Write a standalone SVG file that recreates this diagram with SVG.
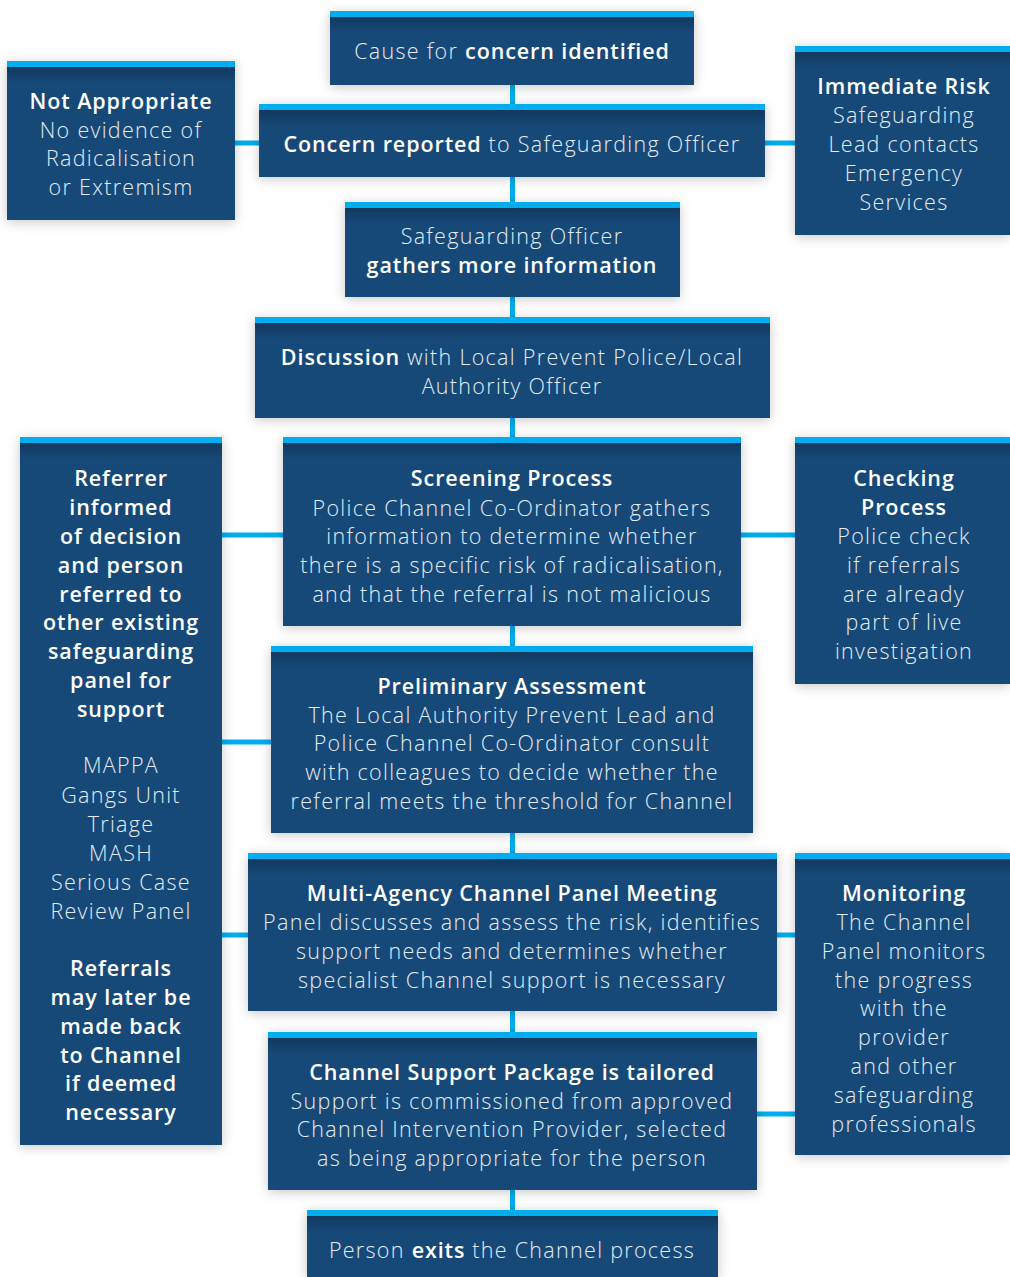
<svg xmlns="http://www.w3.org/2000/svg" width="1010" height="1277" viewBox="0 0 1010 1277">
<defs>
<filter id="sh" x="-10%" y="-10%" width="120%" height="130%">
<feDropShadow dx="0" dy="2" stdDeviation="6" flood-color="#000" flood-opacity="0.22"/>
</filter>
<linearGradient id="topg" x1="0" y1="0" x2="0" y2="1">
<stop offset="0" stop-color="#000" stop-opacity="0.22"/>
<stop offset="1" stop-color="#000" stop-opacity="0"/>
</linearGradient>
</defs>
<style>
.box{fill:#134a78;filter:url(#sh)}
.bar{fill:#00adef}
.grad{fill:url(#topg)}
.con{stroke:#00adef;stroke-width:5;fill:none}
text{font-family:"Open Sans",Lato,"Liberation Sans",sans-serif;font-size:21.5px;fill:#e4ecf3;text-anchor:middle;font-weight:300;letter-spacing:1.3px}
.b{font-weight:600;fill:#ffffff;letter-spacing:0.9px}
</style>
<rect width="1010" height="1277" fill="#ffffff"/>
<g id="connectors">
<line class="con" x1="512.5" y1="85" x2="512.5" y2="1210"/>
<line class="con" x1="235" y1="143" x2="259" y2="143"/>
<line class="con" x1="765" y1="143" x2="795" y2="143"/>
<line class="con" x1="222" y1="535" x2="283" y2="535"/>
<line class="con" x1="741" y1="535" x2="795" y2="535"/>
<line class="con" x1="222" y1="742" x2="271" y2="742"/>
<line class="con" x1="222" y1="935" x2="248" y2="935"/>
<line class="con" x1="777" y1="935" x2="795" y2="935"/>
<line class="con" x1="757" y1="1114" x2="795" y2="1114"/>
</g>
<g id="cause">
<rect class="box" x="330" y="11" width="364" height="74"/>
<rect class="grad" x="330" y="17" width="364" height="16"/>
<rect class="bar" x="330" y="11" width="364" height="6"/>
<text x="512" y="59">Cause for <tspan class="b">concern identified</tspan></text>
</g>
<g id="reported">
<rect class="box" x="259" y="104" width="506" height="73"/>
<rect class="grad" x="259" y="110" width="506" height="16"/>
<rect class="bar" x="259" y="104" width="506" height="6"/>
<text x="512" y="152"><tspan class="b">Concern reported</tspan> to Safeguarding Officer</text>
</g>
<g id="notappropriate">
<rect class="box" x="7" y="61" width="228" height="159"/>
<rect class="grad" x="7" y="67" width="228" height="16"/>
<rect class="bar" x="7" y="61" width="228" height="6"/>
<text x="121" y="109" class="b">Not Appropriate</text>
<text x="121" y="138">No evidence of</text>
<text x="121" y="166">Radicalisation</text>
<text x="121" y="195">or Extremism</text>
</g>
<g id="immediaterisk">
<rect class="box" x="795" y="46" width="215" height="189"/>
<rect class="grad" x="795" y="52" width="215" height="16"/>
<rect class="bar" x="795" y="46" width="215" height="6"/>
<text x="904" y="94" class="b">Immediate Risk</text>
<text x="904" y="123">Safeguarding</text>
<text x="904" y="152">Lead contacts</text>
<text x="904" y="181">Emergency</text>
<text x="904" y="210">Services</text>
</g>
<g id="gathers">
<rect class="box" x="345" y="202" width="335" height="95"/>
<rect class="grad" x="345" y="208" width="335" height="16"/>
<rect class="bar" x="345" y="202" width="335" height="6"/>
<text x="512" y="244">Safeguarding Officer</text>
<text x="512" y="273" class="b">gathers more information</text>
</g>
<g id="discussion">
<rect class="box" x="255" y="317" width="515" height="101"/>
<rect class="grad" x="255" y="323" width="515" height="16"/>
<rect class="bar" x="255" y="317" width="515" height="6"/>
<text x="512" y="365"><tspan class="b">Discussion</tspan> with Local Prevent Police/Local</text>
<text x="512" y="394">Authority Officer</text>
</g>
<g id="referrer">
<rect class="box" x="20" y="437" width="202" height="708"/>
<rect class="grad" x="20" y="443" width="202" height="16"/>
<rect class="bar" x="20" y="437" width="202" height="6"/>
<text x="121" y="486" class="b">Referrer</text>
<text x="121" y="515" class="b">informed</text>
<text x="121" y="544" class="b">of decision</text>
<text x="121" y="573" class="b">and person</text>
<text x="121" y="602" class="b">referred to</text>
<text x="121" y="630" class="b">other existing</text>
<text x="121" y="659" class="b">safeguarding</text>
<text x="121" y="688" class="b">panel for</text>
<text x="121" y="717" class="b">support</text>
<text x="121" y="773">MAPPA</text>
<text x="121" y="803">Gangs Unit</text>
<text x="121" y="832">Triage</text>
<text x="121" y="861">MASH</text>
<text x="121" y="890">Serious Case</text>
<text x="121" y="919">Review Panel</text>
<text x="121" y="976" class="b">Referrals</text>
<text x="121" y="1005" class="b">may later be</text>
<text x="121" y="1034" class="b">made back</text>
<text x="121" y="1063" class="b">to Channel</text>
<text x="121" y="1091" class="b">if deemed</text>
<text x="121" y="1120" class="b">necessary</text>
</g>
<g id="screening">
<rect class="box" x="283" y="437" width="458" height="189"/>
<rect class="grad" x="283" y="443" width="458" height="16"/>
<rect class="bar" x="283" y="437" width="458" height="6"/>
<text x="512" y="486" class="b">Screening Process</text>
<text x="512" y="516">Police Channel Co-Ordinator gathers</text>
<text x="512" y="544">information to determine whether</text>
<text x="512" y="573">there is a specific risk of radicalisation,</text>
<text x="512" y="602">and that the referral is not malicious</text>
</g>
<g id="checking">
<rect class="box" x="795" y="437" width="215" height="247"/>
<rect class="grad" x="795" y="443" width="215" height="16"/>
<rect class="bar" x="795" y="437" width="215" height="6"/>
<text x="904" y="486" class="b">Checking</text>
<text x="904" y="515" class="b">Process</text>
<text x="904" y="544">Police check</text>
<text x="904" y="573">if referrals</text>
<text x="904" y="602">are already</text>
<text x="904" y="630">part of live</text>
<text x="904" y="659">investigation</text>
</g>
<g id="preliminary">
<rect class="box" x="271" y="646" width="482" height="187"/>
<rect class="grad" x="271" y="652" width="482" height="16"/>
<rect class="bar" x="271" y="646" width="482" height="6"/>
<text x="512" y="694" class="b">Preliminary Assessment</text>
<text x="512" y="723">The Local Authority Prevent Lead and</text>
<text x="512" y="751">Police Channel Co-Ordinator consult</text>
<text x="512" y="780">with colleagues to decide whether the</text>
<text x="512" y="809">referral meets the threshold for Channel</text>
</g>
<g id="panelmeeting">
<rect class="box" x="248" y="853" width="529" height="158"/>
<rect class="grad" x="248" y="859" width="529" height="16"/>
<rect class="bar" x="248" y="853" width="529" height="6"/>
<text x="512" y="901" class="b">Multi-Agency Channel Panel Meeting</text>
<text x="512" y="930">Panel discusses and assess the risk, identifies</text>
<text x="512" y="959">support needs and determines whether</text>
<text x="512" y="988">specialist Channel support is necessary</text>
</g>
<g id="monitoring">
<rect class="box" x="795" y="853" width="215" height="302"/>
<rect class="grad" x="795" y="859" width="215" height="16"/>
<rect class="bar" x="795" y="853" width="215" height="6"/>
<text x="904" y="901" class="b">Monitoring</text>
<text x="904" y="930">The Channel</text>
<text x="904" y="959">Panel monitors</text>
<text x="904" y="988">the progress</text>
<text x="904" y="1016">with the</text>
<text x="904" y="1045">provider</text>
<text x="904" y="1074">and other</text>
<text x="904" y="1103">safeguarding</text>
<text x="904" y="1132">professionals</text>
</g>
<g id="supportpackage">
<rect class="box" x="268" y="1032" width="489" height="158"/>
<rect class="grad" x="268" y="1038" width="489" height="16"/>
<rect class="bar" x="268" y="1032" width="489" height="6"/>
<text x="512" y="1080" class="b">Channel Support Package is tailored</text>
<text x="512" y="1109">Support is commissioned from approved</text>
<text x="512" y="1137">Channel Intervention Provider, selected</text>
<text x="512" y="1166">as being appropriate for the person</text>
</g>
<g id="exit">
<rect class="box" x="307" y="1210" width="411" height="67"/>
<rect class="grad" x="307" y="1216" width="411" height="16"/>
<rect class="bar" x="307" y="1210" width="411" height="6"/>
<text x="512" y="1258">Person <tspan class="b">exits</tspan> the Channel process</text>
</g>
</svg>
